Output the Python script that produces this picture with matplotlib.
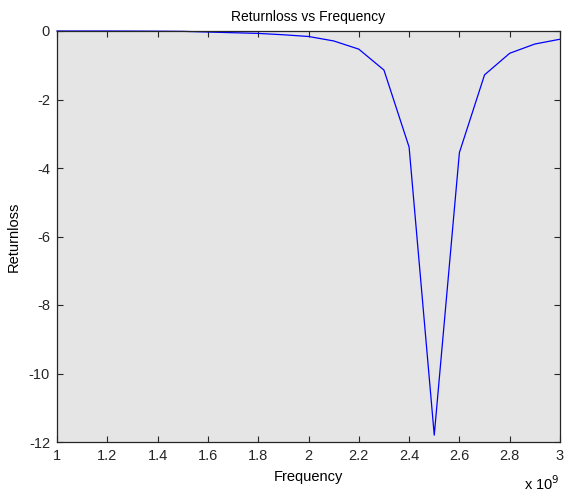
import matplotlib
matplotlib.use("Agg")
import matplotlib.pyplot as plt
from matplotlib.ticker import FuncFormatter, MultipleLocator
import numpy as np

plt.rcParams['font.family'] = ['Liberation Sans', 'DejaVu Sans']

freq_ghz = [1.0, 1.1, 1.2, 1.3, 1.4, 1.5, 1.6, 1.7, 1.8, 1.9, 2.0,
            2.1, 2.2, 2.3, 2.4, 2.5, 2.6, 2.7, 2.8, 2.9, 3.0]
returnloss = [0.0, 0.0, 0.0, -0.002, -0.005, -0.01, -0.03, -0.05, -0.07, -0.11, -0.16,
              -0.29, -0.53, -1.14, -3.39, -11.8, -3.55, -1.28, -0.65, -0.38, -0.24]

freq_hz = np.array(freq_ghz) * 1e9

fig = plt.figure(figsize=(5.64, 4.92), dpi=100)
ax = fig.add_axes([57/564, 50/492, 503/564, 411/492])
ax.set_facecolor('#e5e5e5')
ax.plot(freq_hz, returnloss, color='#0000ff', linewidth=0.9, clip_on=False)
ax.set_xlim(1e9, 3e9)
ax.set_ylim(-12, 0)
ax.xaxis.set_major_locator(MultipleLocator(0.2e9))
ax.yaxis.set_major_locator(MultipleLocator(2))
ax.xaxis.set_major_formatter(FuncFormatter(lambda v, p: '%g' % round(v / 1e9, 3)))
ax.yaxis.set_major_formatter(FuncFormatter(lambda v, p: '%g' % v))
ax.tick_params(direction='in', length=4, width=0.8, labelsize=10.5, colors='#262626',
               top=True, right=True)
ax.tick_params(axis='x', pad=5)
ax.tick_params(axis='y', pad=5)
for s in ax.spines.values():
    s.set_linewidth(0.9)
    s.set_color('#262626')
ax.set_title('Returnloss vs Frequency', fontsize=10, pad=7)
ax.set_xlabel('Frequency', fontsize=10.5, labelpad=5)
ax.set_ylabel('Returnloss', fontsize=10.5, labelpad=6)
fig.text(524/564, 1 - 484/492, r'x 10$^9$', fontsize=10.5, ha='left', va='center')

fig.savefig('out.png', dpi=100)
